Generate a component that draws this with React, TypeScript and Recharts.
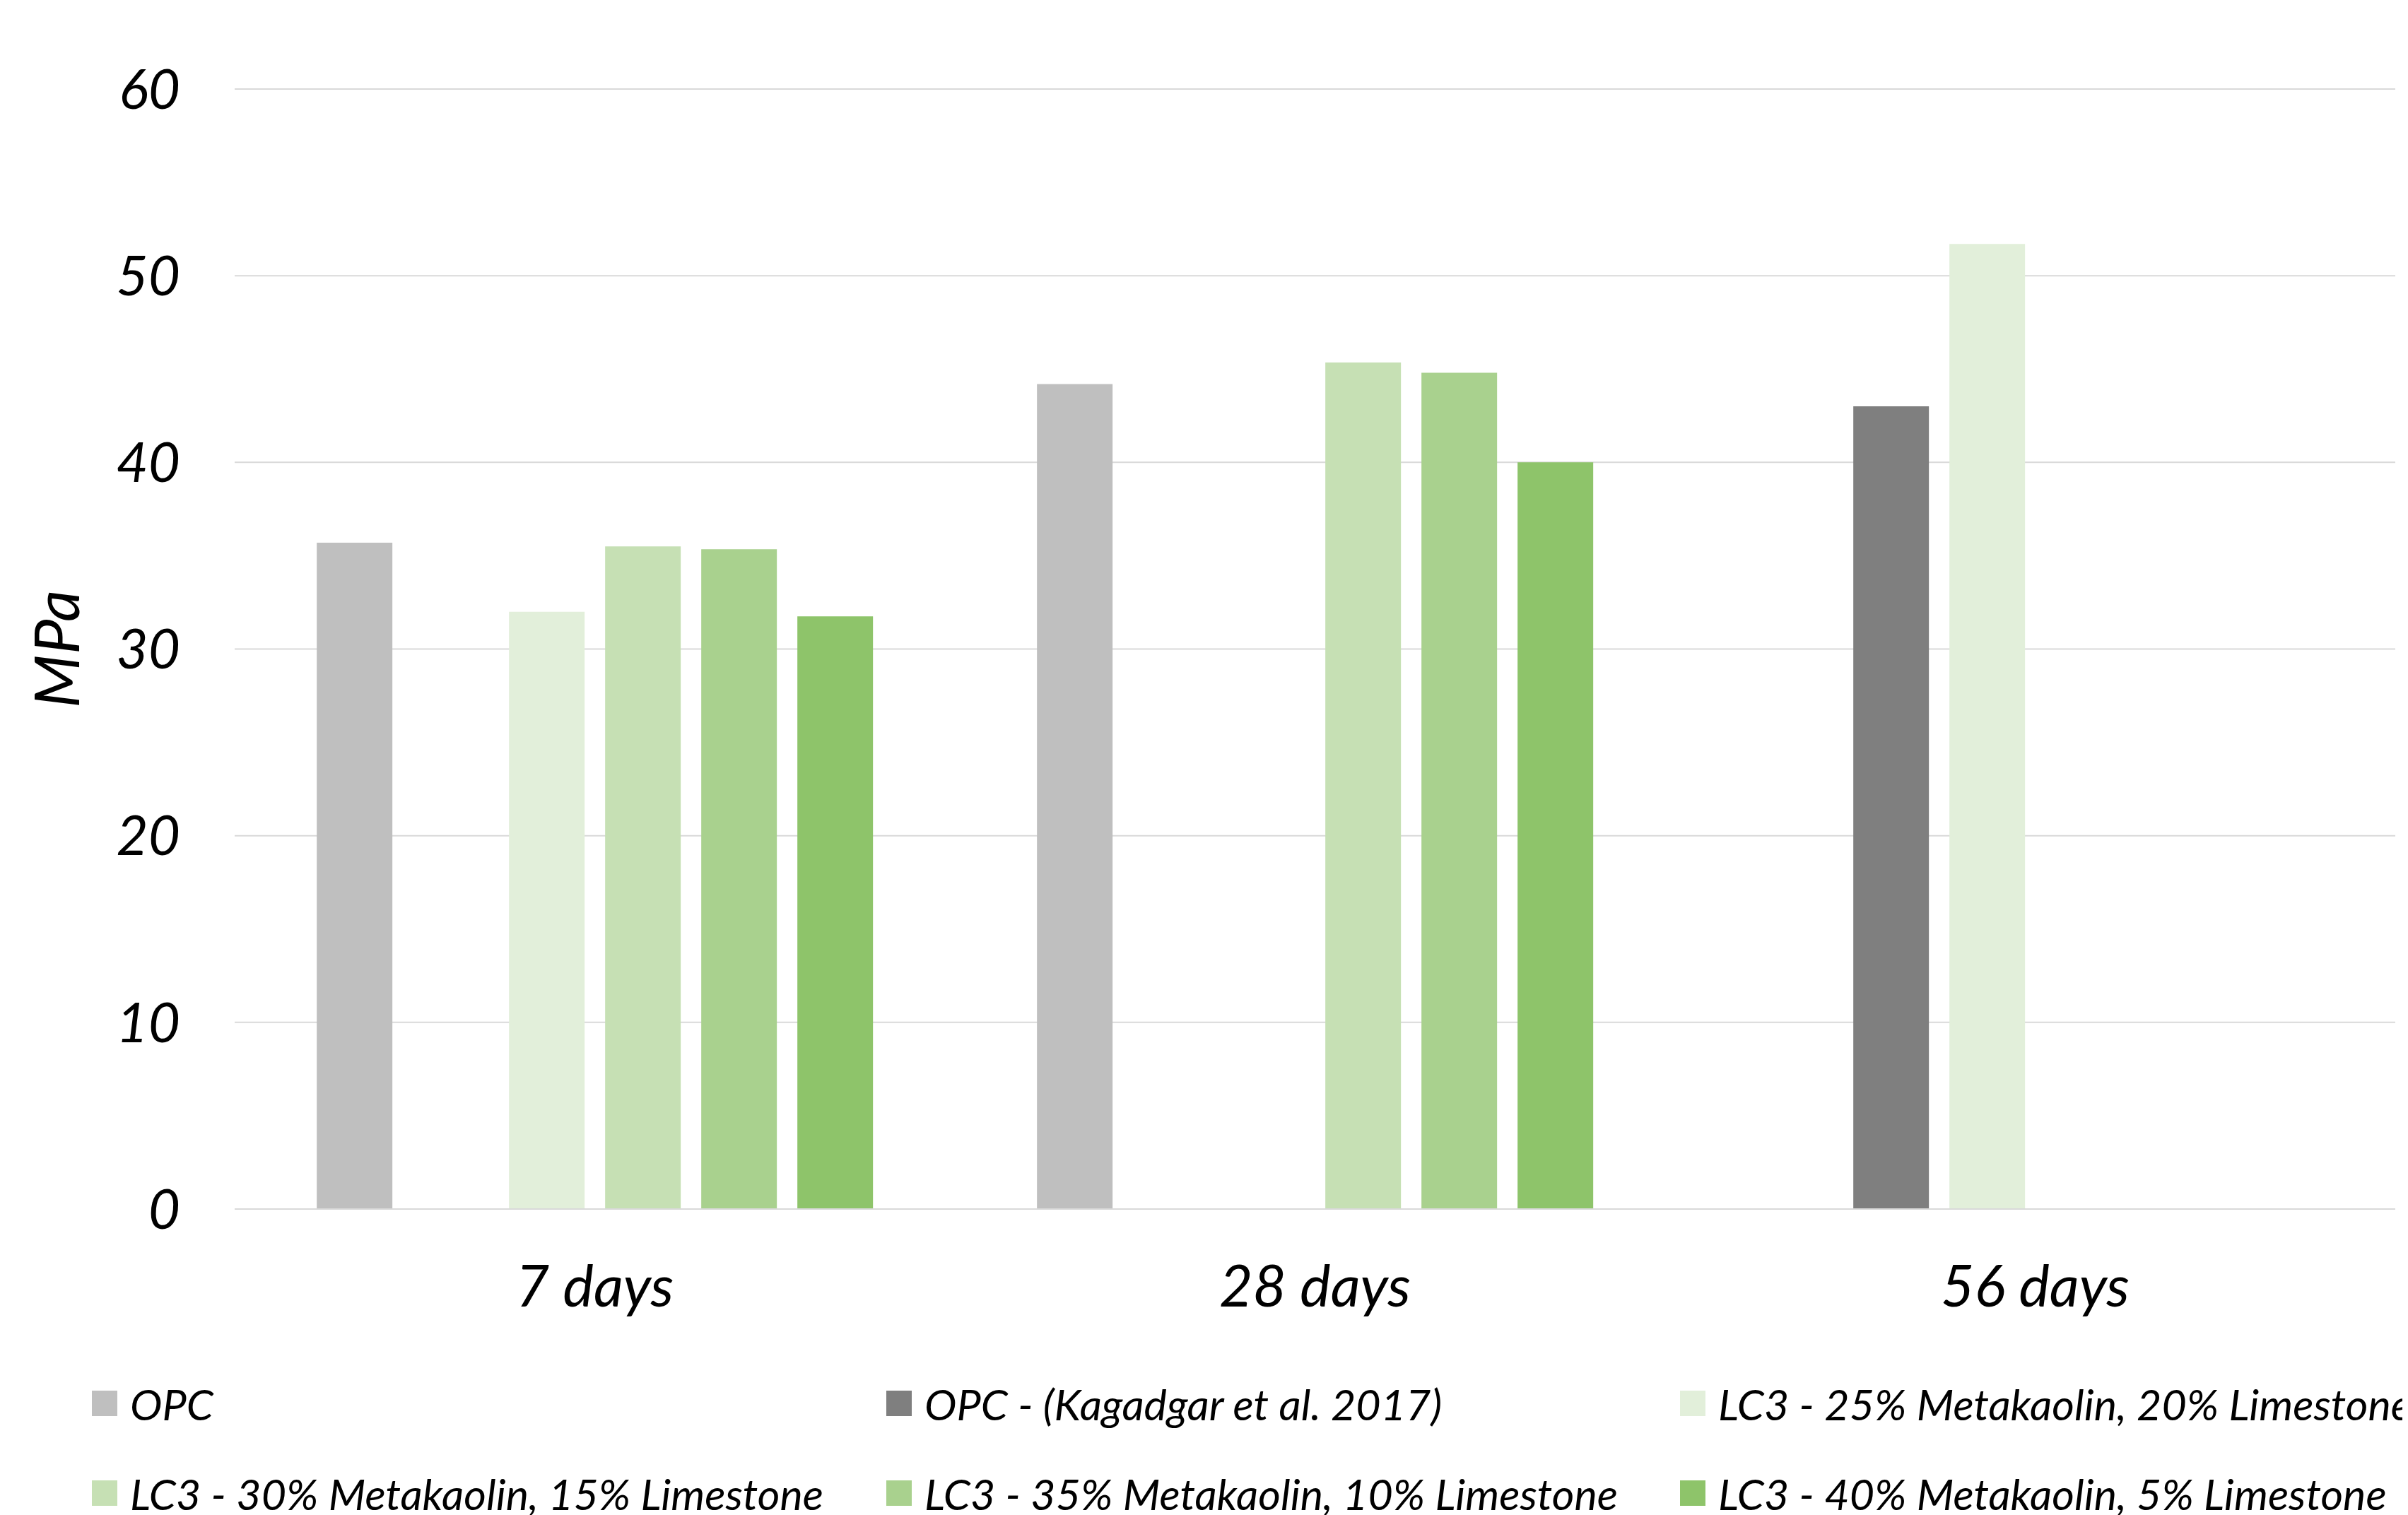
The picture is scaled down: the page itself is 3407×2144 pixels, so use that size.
import React from 'react';
import { BarChart, Bar, XAxis, YAxis, CartesianGrid, Legend } from 'recharts';

const categories = ['7 days', '28 days', '56 days'];
const seriesNames = [
  'OPC',
  'OPC - (Kagadgar et al. 2017)',
  'LC3 - 25% Metakaolin, 20% Limestone',
  'LC3 - 30% Metakaolin, 15% Limestone',
  'LC3 - 35% Metakaolin, 10% Limestone',
  'LC3 - 40% Metakaolin, 5% Limestone',
];
const opc = [35.7, 44.2, null];
const opcKagadgar = [null, null, 43.0];
const lc3_25_20 = [32.0, null, 51.7];
const lc3_30_15 = [35.5, 45.35, null];
const lc3_35_10 = [35.35, 44.8, null];
const lc3_40_5 = [31.75, 40.0, null];
const yTicks = [0, 10, 20, 30, 40, 50, 60];
const colors = ['#BFBFBF', '#7F7F7F', '#E2EFDA', '#C6E0B4', '#A9D18E', '#8EC46A'];
const keys = ['s0', 's1', 's2', 's3', 's4', 's5'];
const seriesValues = [opc, opcKagadgar, lc3_25_20, lc3_30_15, lc3_35_10, lc3_40_5];

const data = categories.map((c, i) => {
  const row: any = { name: c };
  seriesValues.forEach((arr, k) => {
    row[keys[k]] = arr[i];
  });
  return row;
});

const FONT = 'Lato, "Open Sans", sans-serif';

const LegendContent = () => {
  const colX = [122, 1246, 2369];
  const rowY = [48, 175];
  return (
    <div style={{ position: 'relative', width: 3399, height: 210 }}>
      {seriesNames.map((n, i) => {
        const col = i % 3;
        const row = Math.floor(i / 3);
        return (
          <div
            key={n}
            style={{
              position: 'absolute',
              left: colX[col],
              top: rowY[row] - 40,
              height: 80,
              display: 'flex',
              alignItems: 'center',
              whiteSpace: 'nowrap',
            }}
          >
            <div style={{ width: 36, height: 36, background: colors[i], marginRight: 18 }} />
            <span style={{ fontFamily: FONT, fontStyle: 'italic', fontSize: 61, color: '#000' }}>{n}</span>
          </div>
        );
      })}
    </div>
  );
};

const YLabel = (props: any) => {
  const vb = props.viewBox || {};
  const cy = (vb.y || 0) + (vb.height || 0) / 2;
  const cx = 70;
  return (
    <text
      x={cx}
      y={cy}
      transform={`rotate(-90 ${cx} ${cy})`}
      textAnchor="middle"
      dominantBaseline="central"
      fontFamily={FONT}
      fontStyle="italic"
      fontSize={88}
      fill="#000"
    >
      MPa
    </text>
  );
};

export default function App() {
  return (
    <div style={{ width: 3399, height: 2136 }}>
      <BarChart
        width={3399}
        height={2136}
        data={data}
        margin={{ top: 118, right: 18, bottom: 403, left: 0 }}
        barCategoryGap="11.4%"
        barGap={29}
      >
        <CartesianGrid vertical={false} stroke="#D9D9D9" strokeWidth={2} />
        <XAxis
          dataKey="name"
          height={30}
          axisLine={{ stroke: '#D9D9D9', strokeWidth: 2 }}
          tickLine={false}
          tickSize={0}
          tickMargin={80}
          tick={{ fontFamily: FONT, fontStyle: 'italic', fontSize: 82, fill: '#000' }}
        />
        <YAxis
          width={324}
          domain={[0, 60]}
          ticks={yTicks}
          interval={0}
          axisLine={false}
          tickLine={false}
          tickSize={0}
          tickMargin={77}
          tick={{ fontFamily: FONT, fontStyle: 'italic', fontSize: 78, fill: '#000' }}
          label={<YLabel />}
        />
        <Legend
          layout="horizontal"
          verticalAlign="middle"
          align="center"
          wrapperStyle={{ position: 'absolute', left: 0, top: 1930, width: 3399, height: 210 }}
          content={<LegendContent />}
        />
        {keys.map((k, i) => (
          <Bar key={k} dataKey={k} name={seriesNames[i]} fill={colors[i]} isAnimationActive={false} />
        ))}
      </BarChart>
    </div>
  );
}
